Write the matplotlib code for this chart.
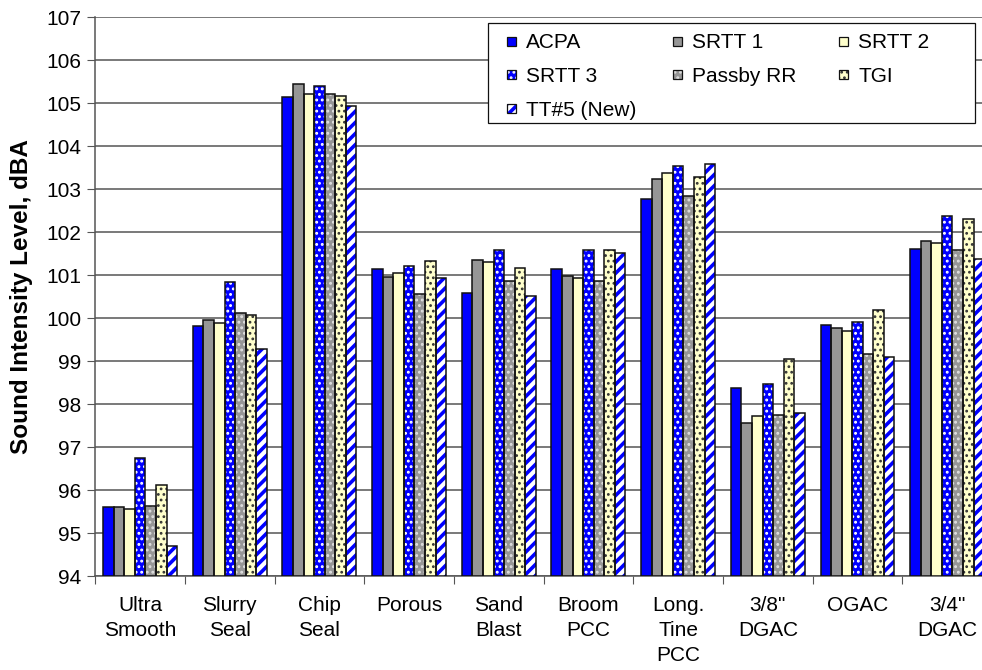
import matplotlib
matplotlib.use("Agg")
import matplotlib.pyplot as plt
import numpy as np
from matplotlib.legend import Legend
from matplotlib.legend_handler import HandlerBase
from matplotlib.patches import Rectangle

plt.rcParams['font.family'] = ['Liberation Sans', 'DejaVu Sans']

categories = ["Ultra\nSmooth", "Slurry\nSeal", "Chip\nSeal", "Porous", "Sand\nBlast",
              "Broom\nPCC", "Long.\nTine\nPCC", "3/8\"\nDGAC", "OGAC", "3/4\"\nDGAC"]
series = ["ACPA", "SRTT 1", "SRTT 2", "SRTT 3", "Passby RR", "TGI", "TT#5 (New)"]

acpa   = [95.62, 99.82, 105.15, 101.14, 100.60, 101.15, 102.77, 98.39, 99.85, 101.62]
srtt1  = [95.62, 99.96, 105.44, 100.95, 101.36, 100.98, 103.25, 97.57, 99.78, 101.80]
srtt2  = [95.56, 99.88, 105.21, 101.05, 101.30, 100.93, 103.38, 97.73, 99.70, 101.74]
srtt3  = [96.74, 100.85, 105.40, 101.21, 101.59, 101.59, 103.54, 98.47, 99.91, 102.39]
passby = [95.64, 100.12, 105.22, 100.56, 100.87, 100.87, 102.84, 97.75, 99.16, 101.59]
tgi    = [96.12, 100.08, 105.17, 101.33, 101.17, 101.59, 103.29, 99.05, 100.19, 102.32]
tt5    = [94.70, 99.29, 104.94, 100.94, 100.53, 101.52, 103.58, 97.80, 99.09, 101.39]
data = [acpa, srtt1, srtt2, srtt3, passby, tgi, tt5]

faces = ["#0000FF", "#969696", "#FFFFCC", "#0000FF", "#969696", "#FFFFCC", "#FFFFFF"]
hatches = [None, None, None, "...", "...", "...", "///"]
hcolors = [None, None, None, "#FFFFFF", "#E0E0E0", "#333333", "#0000FF"]
hlw = [1, 1, 1, 1.3, 1.3, 1.2, 2.6]

FS = 15
fig = plt.figure(figsize=(9.82, 6.70), dpi=100)
L, R, T, B = 95.3, 992.0, 17.3, 576.3
ax = fig.add_axes([L / 982, 1 - B / 670, (R - L) / 982, (B - T) / 670])

ymin, ymax = 94, 107
n = len(series)
x = np.arange(len(categories))
group = 0.825
bw = group / n
handles = []
for i, vals in enumerate(data):
    pos = x - group / 2 + bw * (i + 0.5)
    heights = np.array(vals) - ymin
    ax.bar(pos, heights, bw, bottom=ymin, color=faces[i], edgecolor="none", linewidth=0, zorder=3)
    parts = [Rectangle((0, 0), 1, 1, facecolor=faces[i], edgecolor="none", linewidth=0)]
    if hatches[i]:
        bars = ax.bar(pos, heights, bw, bottom=ymin, facecolor="none", edgecolor=hcolors[i],
                      linewidth=0, hatch=hatches[i], zorder=4)
        for p in bars:
            if hasattr(p, "set_hatch_linewidth"):
                p.set_hatch_linewidth(hlw[i])
        hh = Rectangle((0, 0), 1, 1, facecolor="none", edgecolor=hcolors[i], linewidth=0,
                       hatch=hatches[i])
        if hasattr(hh, "set_hatch_linewidth"):
            hh.set_hatch_linewidth(hlw[i])
        parts.append(hh)
    ax.bar(pos, heights, bw, bottom=ymin, facecolor="none", edgecolor="#111111", linewidth=1.1, zorder=5)
    parts.append(Rectangle((0, 0), 1, 1, facecolor="none", edgecolor="#111111", linewidth=0.9))
    handles.append(tuple(parts))


class SquareHandler(HandlerBase):
    def create_artists(self, legend, orig, xdescent, ydescent, width, height, fontsize, trans):
        s = 0.42 * fontsize
        x0 = -xdescent + width - s
        y0 = -ydescent + (height - s) / 2
        arts = []
        for p in orig:
            r = Rectangle((x0, y0), s, s, facecolor=p.get_facecolor(), edgecolor=p.get_edgecolor(),
                          linewidth=p.get_linewidth(), hatch=p.get_hatch(), transform=trans)
            if p.get_hatch() and hasattr(p, "get_hatch_linewidth"):
                r.set_hatch_linewidth(p.get_hatch_linewidth())
            arts.append(r)
        return arts


ax.set_xlim(-0.5, len(categories) - 0.5)
ax.set_ylim(ymin, ymax)
ax.set_yticks(np.arange(ymin, ymax + 1, 1))
ax.tick_params(axis="y", direction="out", length=6, labelsize=FS, color="#555555", pad=4)
ax.set_xticks(np.arange(len(categories) + 1) - 0.5)
ax.set_xticklabels([])
ax.set_xticks(x, minor=True)
ax.set_xticklabels(categories, minor=True, fontsize=FS, linespacing=1.4)
ax.tick_params(axis="x", which="major", direction="out", length=6, color="#555555")
ax.tick_params(axis="x", which="minor", length=0, pad=14)
for lbl in ax.get_xticklabels(minor=True):
    lbl.set_verticalalignment("top")

ax.grid(axis="y", color="#555555", linewidth=1.1, zorder=0)
ax.set_axisbelow(True)
for s in ["left", "bottom"]:
    ax.spines[s].set_color("#555555")
    ax.spines[s].set_linewidth(1.1)
ax.spines["top"].set_visible(False)
ax.spines["right"].set_visible(False)

ax.set_ylabel("Sound Intensity Level, dBA", fontsize=17.5, fontweight="bold")
ax.yaxis.set_label_coords((33 - L) / (R - L), 0.5)


def ax_x(px):
    return (px - L) / (R - L)


def ax_y(py):
    return (B - py) / (B - T)


frame = Rectangle((ax_x(488), ax_y(123)), ax_x(975) - ax_x(488), ax_y(23) - ax_y(123),
                  transform=ax.transAxes, facecolor="white", edgecolor="#111111",
                  linewidth=0.9, zorder=9, clip_on=False)
ax.add_patch(frame)

columns = [[0, 3, 6], [1, 4], [2, 5]]
col_px = [507, 673, 839]
for col, cx in zip(columns, col_px):
    bp = 0.5
    anchor = ax_x(cx - bp * FS * 100 / 72)
    lg = Legend(ax, [handles[k] for k in col], [series[k] for k in col],
                handler_map={tuple: SquareHandler()}, loc="upper left",
                bbox_to_anchor=(anchor, ax_y(23)), bbox_transform=ax.transAxes,
                frameon=False, fontsize=FS, handlelength=0.42, handleheight=0.7,
                handletextpad=0.5, labelspacing=0.7, borderpad=bp, borderaxespad=0)
    lg.set_zorder(10)
    ax.add_artist(lg)

fig.savefig("out.png", dpi=100)
